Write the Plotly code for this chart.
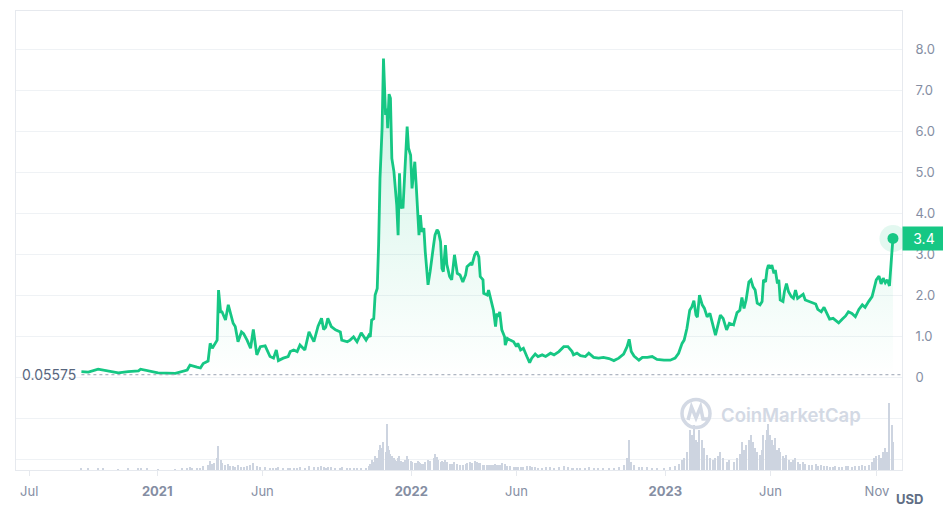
import plotly.graph_objects as go

# ---- data ----
dates = [
    "2020-09-14", "2020-09-24", "2020-10-08", "2020-10-15", "2020-11-06", "2020-11-20", "2020-12-05", "2020-12-08", "2020-12-18",
    "2021-01-02", "2021-01-27", "2021-02-06", "2021-02-13", "2021-02-17", "2021-02-20", "2021-02-27",
    "2021-03-04", "2021-03-08", "2021-03-15", "2021-03-18", "2021-03-21", "2021-03-24", "2021-03-28", "2021-03-30",
    "2021-04-02", "2021-04-04", "2021-04-09", "2021-04-13", "2021-04-16", "2021-04-20", "2021-04-23", "2021-04-27",
    "2021-05-02", "2021-05-05", "2021-05-10", "2021-05-15", "2021-05-19", "2021-05-24", "2021-05-29",
    "2021-06-05", "2021-06-12", "2021-06-17", "2021-06-21", "2021-06-24",
    "2021-07-01", "2021-07-08", "2021-07-11", "2021-07-16", "2021-07-21", "2021-07-25",
    "2021-08-01", "2021-08-07", "2021-08-14", "2021-08-20", "2021-08-25", "2021-08-28", "2021-08-31",
    "2021-09-03", "2021-09-08", "2021-09-14", "2021-09-21", "2021-09-23",
    "2021-10-01", "2021-10-05", "2021-10-10", "2021-10-15", "2021-10-21", "2021-10-28",
    "2021-11-01", "2021-11-03", "2021-11-05", "2021-11-08", "2021-11-10", "2021-11-13", "2021-11-15", "2021-11-17", "2021-11-20", "2021-11-22", "2021-11-25", "2021-11-27", "2021-11-28", "2021-11-30",
    "2021-12-02", "2021-12-04", "2021-12-07", "2021-12-09", "2021-12-11", "2021-12-13", "2021-12-15", "2021-12-17", "2021-12-19", "2021-12-20", "2021-12-23", "2021-12-26", "2021-12-28", "2021-12-31",
    "2022-01-02", "2022-01-06", "2022-01-08", "2022-01-11", "2022-01-12", "2022-01-14", "2022-01-16", "2022-01-19", "2022-01-21", "2022-01-25", "2022-01-28",
    "2022-02-02", "2022-02-04", "2022-02-07", "2022-02-09", "2022-02-12", "2022-02-14", "2022-02-16", "2022-02-19", "2022-02-21", "2022-02-25", "2022-02-28",
    "2022-03-04", "2022-03-08", "2022-03-12", "2022-03-16", "2022-03-20", "2022-03-22", "2022-03-27", "2022-03-29",
    "2022-04-02", "2022-04-05", "2022-04-08", "2022-04-10", "2022-04-14", "2022-04-15", "2022-04-20", "2022-04-22", "2022-04-25", "2022-04-29",
    "2022-05-02", "2022-05-04", "2022-05-06", "2022-05-08", "2022-05-11", "2022-05-15", "2022-05-16", "2022-05-19", "2022-05-23", "2022-05-28",
    "2022-06-01", "2022-06-03", "2022-06-07", "2022-06-11", "2022-06-16", "2022-06-20", "2022-06-23", "2022-06-28",
    "2022-07-02", "2022-07-08", "2022-07-13", "2022-07-20", "2022-07-25",
    "2022-08-01", "2022-08-08", "2022-08-14", "2022-08-20", "2022-08-22", "2022-08-27",
    "2022-09-01", "2022-09-08", "2022-09-13", "2022-09-20", "2022-09-27",
    "2022-10-04", "2022-10-12", "2022-10-19", "2022-10-26",
    "2022-11-02", "2022-11-07", "2022-11-10", "2022-11-13", "2022-11-17", "2022-11-24", "2022-11-29",
    "2022-12-06", "2022-12-13", "2022-12-20", "2022-12-30",
    "2023-01-08", "2023-01-15", "2023-01-20", "2023-01-25", "2023-01-28",
    "2023-02-01", "2023-02-05", "2023-02-08", "2023-02-11", "2023-02-14", "2023-02-16", "2023-02-19", "2023-02-23", "2023-02-26",
    "2023-03-02", "2023-03-06", "2023-03-11", "2023-03-14", "2023-03-17", "2023-03-21", "2023-03-25", "2023-03-30",
    "2023-04-03", "2023-04-09", "2023-04-14", "2023-04-18", "2023-04-21", "2023-04-24", "2023-04-27",
    "2023-05-01", "2023-05-04", "2023-05-07", "2023-05-10", "2023-05-13", "2023-05-17", "2023-05-20", "2023-05-22", "2023-05-25", "2023-05-27", "2023-05-29",
    "2023-06-01", "2023-06-03", "2023-06-06", "2023-06-08", "2023-06-11", "2023-06-13", "2023-06-15", "2023-06-19", "2023-06-21", "2023-06-24", "2023-06-27",
    "2023-07-01", "2023-07-04", "2023-07-07", "2023-07-10", "2023-07-14", "2023-07-18", "2023-07-21", "2023-07-26", "2023-07-31",
    "2023-08-05", "2023-08-08", "2023-08-13", "2023-08-17", "2023-08-21", "2023-08-25", "2023-08-30",
    "2023-09-02", "2023-09-07", "2023-09-12", "2023-09-17", "2023-09-21", "2023-09-26",
    "2023-10-01", "2023-10-06", "2023-10-11", "2023-10-15", "2023-10-20", "2023-10-25", "2023-10-28", "2023-10-31",
    "2023-11-04", "2023-11-07", "2023-11-10", "2023-11-13", "2023-11-16", "2023-11-19", "2023-11-22", "2023-11-24",
]

price = [
    0.13, 0.12, 0.19, 0.17, 0.10, 0.13, 0.15, 0.19, 0.15,
    0.10, 0.09, 0.13, 0.17, 0.29, 0.27, 0.24,
    0.22, 0.33, 0.39, 0.82, 0.70, 0.78, 0.90, 2.12,
    1.59, 1.59, 1.39, 1.76, 1.59, 1.31, 1.23, 0.86,
    1.10, 1.06, 0.90, 0.70, 1.16, 0.54, 0.74,
    0.76, 0.50, 0.46, 0.66, 0.40,
    0.46, 0.50, 0.62, 0.66, 0.62, 0.78,
    0.66, 1.10, 0.86, 1.24, 1.43, 1.16, 1.21,
    1.43, 1.23, 1.15, 1.10, 0.90,
    0.86, 0.90, 0.98, 0.86, 1.08, 0.90,
    1.02, 0.98, 1.39, 1.42, 2.00, 2.16, 3.22, 4.85, 6.07, 7.77, 6.39, 6.55, 6.07, 6.90,
    6.80, 5.33, 5.01, 4.60, 4.20, 3.46, 4.97, 4.11, 4.20, 4.11, 5.01, 6.11, 5.58, 5.41,
    4.60, 5.25, 4.68, 3.54, 3.46, 3.95, 3.54, 3.63, 3.06, 2.25, 2.57,
    3.22, 3.46, 3.59, 3.54, 3.30, 2.65, 2.57, 3.22, 2.75, 2.45, 2.37,
    2.98, 2.53, 2.49, 2.32, 2.49, 2.69, 2.77, 2.73,
    2.98, 3.06, 2.93, 2.45, 2.37, 2.04, 2.00, 2.12, 1.88, 1.63,
    1.23, 1.55, 1.47, 1.59, 1.15, 0.98, 0.78, 0.94, 0.90, 0.86,
    0.74, 0.82, 0.66, 0.70, 0.50, 0.35, 0.46, 0.56,
    0.50, 0.54, 0.50, 0.58, 0.54,
    0.62, 0.74, 0.74, 0.62, 0.54, 0.58,
    0.52, 0.50, 0.58, 0.48, 0.46,
    0.48, 0.45, 0.40, 0.46,
    0.56, 0.74, 0.92, 0.62, 0.51, 0.41, 0.48,
    0.48, 0.50, 0.43, 0.41,
    0.41, 0.46, 0.58, 0.82, 0.90,
    1.19, 1.63, 1.71, 1.86, 1.51, 1.46, 2.00, 1.76, 1.68,
    1.47, 1.55, 1.23, 1.02, 1.23, 1.51, 1.43, 1.15,
    1.31, 1.27, 1.57, 1.63, 1.94, 1.67, 1.88,
    2.32, 2.37, 2.20, 2.12, 1.80, 1.76, 1.84, 2.37, 2.32, 2.61, 2.73,
    2.65, 2.73, 2.53, 2.61, 2.28, 2.37, 1.88, 1.84, 2.08, 2.28, 2.08,
    1.96, 1.92, 2.12, 1.92, 1.96, 2.02, 1.88, 1.84, 1.81,
    1.78, 1.65, 1.59, 1.70, 1.55, 1.41, 1.43,
    1.39, 1.32, 1.41, 1.49, 1.59, 1.55,
    1.47, 1.65, 1.76, 1.70, 1.84, 1.96, 2.16, 2.37,
    2.46, 2.27, 2.41, 2.30, 2.37, 2.22, 2.93, 3.38,
]

# 24h volume, million USD
volume = [
    15, 12, 20, 15, 10, 12, 15, 20, 15,
    10, 10, 15, 20, 30, 25, 20,
    25, 40, 50, 90, 60, 70, 120, 240,
    100, 70, 50, 60, 40, 40, 30, 50,
    30, 30, 40, 50, 70, 40, 30,
    30, 25, 20, 25, 30,
    20, 20, 25, 20, 20, 30,
    20, 40, 30, 30, 40, 30, 25,
    30, 30, 20, 20, 30,
    20, 20, 20, 20, 25, 20,
    40, 60, 100, 80, 140, 120, 200, 250, 220, 280, 180, 460, 240, 200,
    160, 140, 120, 100, 90, 120, 140, 90, 80, 80, 100, 140, 110, 90,
    80, 70, 70, 90, 80, 70, 60, 60, 80, 100, 90,
    120, 160, 130, 100, 80, 90, 80, 100, 80, 60, 60,
    80, 60, 50, 50, 60, 70, 80, 70,
    90, 80, 70, 70, 50, 50, 50, 50, 50, 50,
    60, 50, 50, 50, 70, 50, 60, 40, 40, 30,
    30, 30, 30, 30, 40, 40, 30, 30,
    20, 20, 30, 30, 20,
    30, 40, 30, 20, 20, 20,
    20, 20, 30, 20, 20,
    20, 20, 20, 30,
    50, 120, 300, 80, 50, 30, 30,
    30, 20, 20, 20,
    30, 40, 60, 100, 120,
    180, 400, 350, 450, 300, 280, 400, 300, 220,
    150, 120, 100, 120, 140, 180, 120, 80,
    100, 80, 120, 160, 280, 200, 250,
    300, 350, 280, 220, 180, 150, 200, 350, 300, 400, 460,
    350, 300, 250, 320, 200, 220, 180, 140, 120, 150, 100,
    80, 100, 120, 80, 60, 80, 60, 50, 50,
    60, 40, 50, 40, 40, 30, 30,
    40, 30, 30, 40, 40, 30,
    40, 40, 50, 40, 50, 80, 120, 140,
    150, 120, 180, 220, 180, 670, 450, 280,
]

first_price = 0.05575
last_label = "3.4"

x_tick_vals = ["2020-07-01", "2021-01-01", "2021-06-01", "2022-01-01",
               "2022-06-01", "2023-01-01", "2023-06-01", "2023-11-01"]
x_tick_text = ["Jul", "<b>2021</b>", "Jun", "<b>2022</b>",
               "Jun", "<b>2023</b>", "Jun", "Nov"]
y_tick_vals = [-2, -1, 0, 1, 2, 3, 4, 5, 6, 7, 8]
y_tick_text = ["", "", "0", "1.0", "2.0", "3.0", "4.0", "5.0", "6.0", "7.0", "8.0"]

n = min(len(dates), len(price), len(volume))
dates, price, volume = dates[:n], price[:n], volume[:n]

GREEN = "#16c784"
GRID = "#eff2f5"
AXIS = "#e6e9ee"
TICK = "#858ea3"
FONT = "Inter"
WM = "#d3d9e4"

fig = go.Figure()

fig.add_trace(go.Bar(
    x=dates, y=volume, yaxis="y2",
    marker=dict(color="#cdd4e0", line=dict(width=0)),
    width=1.6 * 86400000, hoverinfo="skip", showlegend=False,
))

fig.add_trace(go.Scatter(
    x=dates, y=price, mode="lines",
    line=dict(color=GREEN, width=2.8),
    fill="tozeroy",
    fillgradient=dict(type="vertical",
                      colorscale=[[0, "rgba(22,199,132,0.0)"],
                                  [1, "rgba(22,199,132,0.22)"]]),
    hoverinfo="skip", showlegend=False,
))

# end marker halo + dot
fig.add_trace(go.Scatter(
    x=[dates[-1]], y=[price[-1]], mode="markers",
    marker=dict(size=27, color="rgba(22,199,132,0.12)", line=dict(width=0)),
    hoverinfo="skip", showlegend=False,
))
fig.add_trace(go.Scatter(
    x=[dates[-1]], y=[price[-1]], mode="markers",
    marker=dict(size=11, color=GREEN, line=dict(width=0)),
    hoverinfo="skip", showlegend=False,
))

shapes = [
    # dotted start-price line
    dict(type="line", xref="x", yref="y", x0=dates[0], x1="2023-12-07",
         y0=first_price, y1=first_price,
         line=dict(color="#9aa3b3", width=1, dash="dot")),
    # watermark logo
    dict(type="circle", xref="paper", yref="paper",
         x0=0.7517, x1=0.7833, y0=0.0926, y1=0.1536,
         line=dict(color=WM, width=3.5)),
    dict(type="path", xref="paper", yref="paper",
         path="M 0.7585 0.1089 L 0.7624 0.1373 L 0.7675 0.1133 L 0.7726 0.1373 L 0.7754 0.1111 L 0.7822 0.1111",
         line=dict(color=WM, width=3.5)),
]

annotations = [
    dict(xref="paper", yref="y", x=0.004, y=first_price, xanchor="left", yanchor="middle",
         text="0.05575", showarrow=False, font=dict(family=FONT, size=14, color="#58667e")),
    dict(xref="paper", yref="y", x=1.0, y=price[-1], xanchor="left", yanchor="middle",
         text=last_label, showarrow=False, bgcolor=GREEN, borderpad=4, width=34, height=15,
         font=dict(family=FONT, size=14, color="white")),
    dict(xref="paper", yref="paper", x=1.008, y=-0.063, xanchor="center", yanchor="middle",
         text="<b>USD</b>", showarrow=False, font=dict(family=FONT, size=13, color="#616e85")),
    dict(xref="paper", yref="paper", x=0.8745, y=0.1198, xanchor="center", yanchor="middle",
         text="CoinMarketCap", showarrow=False,
         font=dict(family=FONT, size=18.5, color=WM, weight=600)),
]

# The page body adds an 8px offset, so the figure is 8px smaller and margins shifted.
fig.update_layout(
    width=943, height=503,
    margin=dict(l=8, r=49, t=3, b=41),
    paper_bgcolor="white", plot_bgcolor="white",
    font=dict(family=FONT, size=13, color=TICK),
    hovermode=False, showlegend=False, bargap=0,
    shapes=shapes, annotations=annotations,
    xaxis=dict(
        type="date", range=["2020-06-12", "2023-12-07"],
        tickvals=x_tick_vals, ticktext=x_tick_text,
        showgrid=False, zeroline=False,
        showline=True, linecolor=AXIS, linewidth=1, mirror=True,
        ticks="outside", ticklen=5, tickcolor=AXIS, ticklabelstandoff=4,
        tickfont=dict(family=FONT, size=13, color=TICK),
    ),
    yaxis=dict(
        side="right", range=[-2.268, 8.927],
        tickvals=y_tick_vals, ticktext=y_tick_text,
        showgrid=True, gridcolor=GRID, gridwidth=1, zeroline=False,
        showline=True, linecolor=AXIS, linewidth=1, mirror=True,
        ticks="", ticklabelstandoff=10,
        tickfont=dict(family=FONT, size=13, color=TICK),
    ),
    yaxis2=dict(
        overlaying="y", range=[0, 4590], visible=False, showgrid=False,
    ),
)

fig.write_html("out.html")
